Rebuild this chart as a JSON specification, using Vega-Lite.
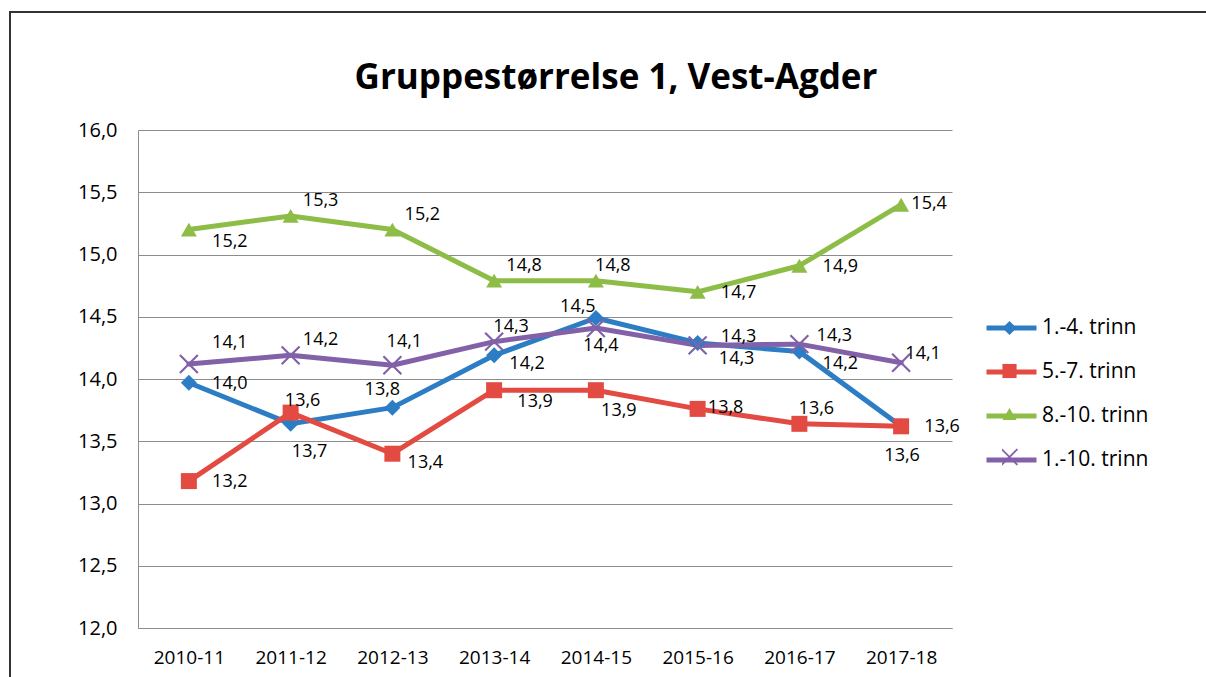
{
  "$schema": "https://vega.github.io/schema/vega-lite/v6.json",
  "autosize": {"type": "none"},
  "padding": {"left": 10, "top": 12, "right": 0, "bottom": 0},
  "width": 1200,
  "height": 670,
  "background": "white",
  "config": {
    "view": {"stroke": "#333333", "strokeWidth": 2},
    "locale": {"number": {"decimal": ",", "thousands": " ", "grouping": [3], "currency": ["", " kr"]}}
  },
  "title": {
    "text": "Gruppestørrelse 1, Vest-Agder",
    "font": "Open Sans",
    "fontSize": 35,
    "fontWeight": "bold",
    "color": "#000000",
    "anchor": "middle",
    "frame": "group",
    "orient": "top",
    "baseline": "alphabetic",
    "offset": -112,
    "dx": 6
  },
  "data": {
    "values": [
      {"year": "2010-11", "serie": "1.-4. trinn", "value": 13.97},
      {"year": "2011-12", "serie": "1.-4. trinn", "value": 13.64},
      {"year": "2012-13", "serie": "1.-4. trinn", "value": 13.77},
      {"year": "2013-14", "serie": "1.-4. trinn", "value": 14.19},
      {"year": "2014-15", "serie": "1.-4. trinn", "value": 14.49},
      {"year": "2015-16", "serie": "1.-4. trinn", "value": 14.29},
      {"year": "2016-17", "serie": "1.-4. trinn", "value": 14.22},
      {"year": "2017-18", "serie": "1.-4. trinn", "value": 13.62},
      {"year": "2010-11", "serie": "5.-7. trinn", "value": 13.18},
      {"year": "2011-12", "serie": "5.-7. trinn", "value": 13.73},
      {"year": "2012-13", "serie": "5.-7. trinn", "value": 13.40},
      {"year": "2013-14", "serie": "5.-7. trinn", "value": 13.91},
      {"year": "2014-15", "serie": "5.-7. trinn", "value": 13.91},
      {"year": "2015-16", "serie": "5.-7. trinn", "value": 13.76},
      {"year": "2016-17", "serie": "5.-7. trinn", "value": 13.64},
      {"year": "2017-18", "serie": "5.-7. trinn", "value": 13.62},
      {"year": "2010-11", "serie": "8.-10. trinn", "value": 15.20},
      {"year": "2011-12", "serie": "8.-10. trinn", "value": 15.31},
      {"year": "2012-13", "serie": "8.-10. trinn", "value": 15.20},
      {"year": "2013-14", "serie": "8.-10. trinn", "value": 14.79},
      {"year": "2014-15", "serie": "8.-10. trinn", "value": 14.79},
      {"year": "2015-16", "serie": "8.-10. trinn", "value": 14.70},
      {"year": "2016-17", "serie": "8.-10. trinn", "value": 14.91},
      {"year": "2017-18", "serie": "8.-10. trinn", "value": 15.40},
      {"year": "2010-11", "serie": "1.-10. trinn", "value": 14.12},
      {"year": "2011-12", "serie": "1.-10. trinn", "value": 14.19},
      {"year": "2012-13", "serie": "1.-10. trinn", "value": 14.11},
      {"year": "2013-14", "serie": "1.-10. trinn", "value": 14.30},
      {"year": "2014-15", "serie": "1.-10. trinn", "value": 14.41},
      {"year": "2015-16", "serie": "1.-10. trinn", "value": 14.27},
      {"year": "2016-17", "serie": "1.-10. trinn", "value": 14.28},
      {"year": "2017-18", "serie": "1.-10. trinn", "value": 14.13}
    ]
  },
  "encoding": {
    "x": {
      "field": "year", "type": "ordinal", "sort": null,
      "scale": {"type": "point", "domain": ["2010-11","2011-12","2012-13","2013-14","2014-15","2015-16","2016-17","2017-18"], "range": [128, 942], "padding": 0.5},
      "axis": {"orient": "bottom", "offset": -54, "title": null, "labelAngle": 0, "ticks": false, "grid": false, "domainColor": "#8c8c8c", "domainWidth": 1, "labelFont": "Open Sans", "labelFontSize": 19, "labelColor": "#000000", "labelPadding": 20}
    },
    "y": {
      "field": "value", "type": "quantitative",
      "scale": {"domain": [12, 16], "range": [616, 118], "zero": false, "nice": false},
      "axis": {"orient": "left", "offset": -128, "title": null, "values": [12, 12.5, 13, 13.5, 14, 14.5, 15, 15.5, 16], "format": ".1f", "ticks": false, "grid": true, "gridColor": "#8c8c8c", "gridWidth": 1, "domainColor": "#8c8c8c", "domainWidth": 1, "labelFont": "Open Sans", "labelFontSize": 20, "labelColor": "#000000", "labelPadding": 21}
    }
  },
  "resolve": {"scale": {"color": "independent", "shape": "independent"}, "legend": {"color": "independent", "shape": "independent"}},
  "layer": [
    {
      "mark": {"type": "line", "strokeWidth": 5, "strokeJoin": "round", "strokeCap": "round"},
      "encoding": {
        "color": {
          "field": "serie", "type": "nominal",
          "scale": {"domain": ["1.-4. trinn", "5.-7. trinn", "8.-10. trinn", "1.-10. trinn"], "range": ["#2C7DC4", "#E24A42", "#8DBD47", "#8261A9"]},
          "legend": {"title": null, "orient": "none", "legendX": 974, "legendY": 306, "symbolType": "stroke", "symbolSize": 2500, "symbolStrokeWidth": 5, "labelFont": "Open Sans", "labelFontSize": 21, "labelColor": "#000000", "clipHeight": 20, "rowPadding": 23, "padding": 0, "labelOffset": 3}
        }
      }
    },
    {
      "mark": {"type": "point", "filled": true, "size": 256, "opacity": 1},
      "encoding": {
        "color": {
          "field": "serie", "type": "nominal",
          "scale": {"domain": ["1.-4. trinn", "5.-7. trinn", "8.-10. trinn", "1.-10. trinn"], "range": ["#2C7DC4", "#E24A42", "#8DBD47", "#8261A9"]},
          "legend": {"title": null, "orient": "none", "legendX": 992, "legendY": 306, "symbolSize": 200, "symbolStrokeWidth": 0, "labelExpr": "''", "labelFontSize": 1, "clipHeight": 20, "rowPadding": 23, "padding": 0}
        },
        "shape": {
          "field": "serie", "type": "nominal",
          "scale": {"domain": ["1.-4. trinn", "5.-7. trinn", "8.-10. trinn", "1.-10. trinn"], "range": ["diamond", "square", "triangle-up", "M-1.025,-1.215L1.215,1.025L1.025,1.215L-1.215,-1.025ZM-1.215,1.025L1.025,-1.215L1.215,-1.025L-1.025,1.215Z"]},
          "legend": {"title": null, "orient": "none", "legendX": 992, "legendY": 306, "symbolSize": 200, "symbolStrokeWidth": 0, "labelExpr": "''", "labelFontSize": 1, "clipHeight": 20, "rowPadding": 23, "padding": 0}
        }
      }
    },
    {
      "transform": [{"filter": "indexof(['1.-4. trinn|2010-11','5.-7. trinn|2010-11','8.-10. trinn|2015-16','8.-10. trinn|2016-17','5.-7. trinn|2017-18'], datum.serie + '|' + datum.year) >= 0"}],
      "mark": {"type": "text", "font": "Open Sans", "fontSize": 18, "color": "#000000", "align": "center", "baseline": "middle", "dx": 41, "dy": 1},
      "encoding": {"text": {"field": "value", "type": "quantitative", "format": ".1f"}}
    },
    {
      "transform": [{"filter": "indexof(['1.-4. trinn|2015-16'], datum.serie + '|' + datum.year) >= 0"}],
      "mark": {"type": "text", "font": "Open Sans", "fontSize": 18, "color": "#000000", "align": "center", "baseline": "middle", "dx": 41, "dy": -6},
      "encoding": {"text": {"field": "value", "type": "quantitative", "format": ".1f"}}
    },
    {
      "transform": [{"filter": "indexof(['1.-10. trinn|2015-16'], datum.serie + '|' + datum.year) >= 0"}],
      "mark": {"type": "text", "font": "Open Sans", "fontSize": 18, "color": "#000000", "align": "center", "baseline": "middle", "dx": 39, "dy": 14},
      "encoding": {"text": {"field": "value", "type": "quantitative", "format": ".1f"}}
    },
    {
      "transform": [{"filter": "indexof(['8.-10. trinn|2010-11','5.-7. trinn|2013-14','1.-4. trinn|2016-17'], datum.serie + '|' + datum.year) >= 0"}],
      "mark": {"type": "text", "font": "Open Sans", "fontSize": 18, "color": "#000000", "align": "center", "baseline": "middle", "dx": 41, "dy": 12},
      "encoding": {"text": {"field": "value", "type": "quantitative", "format": ".1f"}}
    },
    {
      "transform": [{"filter": "indexof(['5.-7. trinn|2012-13','1.-4. trinn|2013-14'], datum.serie + '|' + datum.year) >= 0"}],
      "mark": {"type": "text", "font": "Open Sans", "fontSize": 18, "color": "#000000", "align": "center", "baseline": "middle", "dx": 33, "dy": 9},
      "encoding": {"text": {"field": "value", "type": "quantitative", "format": ".1f"}}
    },
    {
      "transform": [{"filter": "indexof(['8.-10. trinn|2017-18','5.-7. trinn|2015-16'], datum.serie + '|' + datum.year) >= 0"}],
      "mark": {"type": "text", "font": "Open Sans", "fontSize": 18, "color": "#000000", "align": "center", "baseline": "middle", "dx": 28, "dy": -1},
      "encoding": {"text": {"field": "value", "type": "quantitative", "format": ".1f"}}
    },
    {
      "transform": [{"filter": "indexof(['8.-10. trinn|2011-12','8.-10. trinn|2012-13','8.-10. trinn|2013-14','1.-10. trinn|2011-12'], datum.serie + '|' + datum.year) >= 0"}],
      "mark": {"type": "text", "font": "Open Sans", "fontSize": 18, "color": "#000000", "align": "center", "baseline": "middle", "dx": 30, "dy": -15},
      "encoding": {"text": {"field": "value", "type": "quantitative", "format": ".1f"}}
    },
    {
      "transform": [{"filter": "indexof(['1.-10. trinn|2010-11'], datum.serie + '|' + datum.year) >= 0"}],
      "mark": {"type": "text", "font": "Open Sans", "fontSize": 18, "color": "#000000", "align": "center", "baseline": "middle", "dx": 41, "dy": -21},
      "encoding": {"text": {"field": "value", "type": "quantitative", "format": ".1f"}}
    },
    {
      "transform": [{"filter": "indexof(['8.-10. trinn|2014-15','5.-7. trinn|2016-17','1.-10. trinn|2013-14'], datum.serie + '|' + datum.year) >= 0"}],
      "mark": {"type": "text", "font": "Open Sans", "fontSize": 18, "color": "#000000", "align": "center", "baseline": "middle", "dx": 17, "dy": -15},
      "encoding": {"text": {"field": "value", "type": "quantitative", "format": ".1f"}}
    },
    {
      "transform": [{"filter": "indexof(['1.-10. trinn|2017-18'], datum.serie + '|' + datum.year) >= 0"}],
      "mark": {"type": "text", "font": "Open Sans", "fontSize": 18, "color": "#000000", "align": "center", "baseline": "middle", "dx": 22, "dy": -9},
      "encoding": {"text": {"field": "value", "type": "quantitative", "format": ".1f"}}
    },
    {
      "transform": [{"filter": "indexof(['1.-10. trinn|2016-17'], datum.serie + '|' + datum.year) >= 0"}],
      "mark": {"type": "text", "font": "Open Sans", "fontSize": 18, "color": "#000000", "align": "center", "baseline": "middle", "dx": 35, "dy": -8},
      "encoding": {"text": {"field": "value", "type": "quantitative", "format": ".1f"}}
    },
    {
      "transform": [{"filter": "indexof(['1.-10. trinn|2012-13','1.-4. trinn|2011-12'], datum.serie + '|' + datum.year) >= 0"}],
      "mark": {"type": "text", "font": "Open Sans", "fontSize": 18, "color": "#000000", "align": "center", "baseline": "middle", "dx": 12, "dy": -23},
      "encoding": {"text": {"field": "value", "type": "quantitative", "format": ".1f"}}
    },
    {
      "transform": [{"filter": "indexof(['5.-7. trinn|2011-12'], datum.serie + '|' + datum.year) >= 0"}],
      "mark": {"type": "text", "font": "Open Sans", "fontSize": 18, "color": "#000000", "align": "center", "baseline": "middle", "dx": 19, "dy": 39},
      "encoding": {"text": {"field": "value", "type": "quantitative", "format": ".1f"}}
    },
    {
      "transform": [{"filter": "indexof(['5.-7. trinn|2014-15'], datum.serie + '|' + datum.year) >= 0"}],
      "mark": {"type": "text", "font": "Open Sans", "fontSize": 18, "color": "#000000", "align": "center", "baseline": "middle", "dx": 23, "dy": 21},
      "encoding": {"text": {"field": "value", "type": "quantitative", "format": ".1f"}}
    },
    {
      "transform": [{"filter": "indexof(['1.-10. trinn|2014-15'], datum.serie + '|' + datum.year) >= 0"}],
      "mark": {"type": "text", "font": "Open Sans", "fontSize": 18, "color": "#000000", "align": "center", "baseline": "middle", "dx": 5, "dy": 18},
      "encoding": {"text": {"field": "value", "type": "quantitative", "format": ".1f"}}
    },
    {
      "transform": [{"filter": "indexof(['1.-4. trinn|2014-15'], datum.serie + '|' + datum.year) >= 0"}],
      "mark": {"type": "text", "font": "Open Sans", "fontSize": 18, "color": "#000000", "align": "center", "baseline": "middle", "dx": -18, "dy": -11},
      "encoding": {"text": {"field": "value", "type": "quantitative", "format": ".1f"}}
    },
    {
      "transform": [{"filter": "indexof(['1.-4. trinn|2017-18'], datum.serie + '|' + datum.year) >= 0"}],
      "mark": {"type": "text", "font": "Open Sans", "fontSize": 18, "color": "#000000", "align": "center", "baseline": "middle", "dx": 1, "dy": 30},
      "encoding": {"text": {"field": "value", "type": "quantitative", "format": ".1f"}}
    },
    {
      "transform": [{"filter": "indexof(['1.-4. trinn|2012-13'], datum.serie + '|' + datum.year) >= 0"}],
      "mark": {"type": "text", "font": "Open Sans", "fontSize": 18, "color": "#000000", "align": "center", "baseline": "middle", "dx": -10, "dy": -18},
      "encoding": {"text": {"field": "value", "type": "quantitative", "format": ".1f"}}
    }
  ]
}
